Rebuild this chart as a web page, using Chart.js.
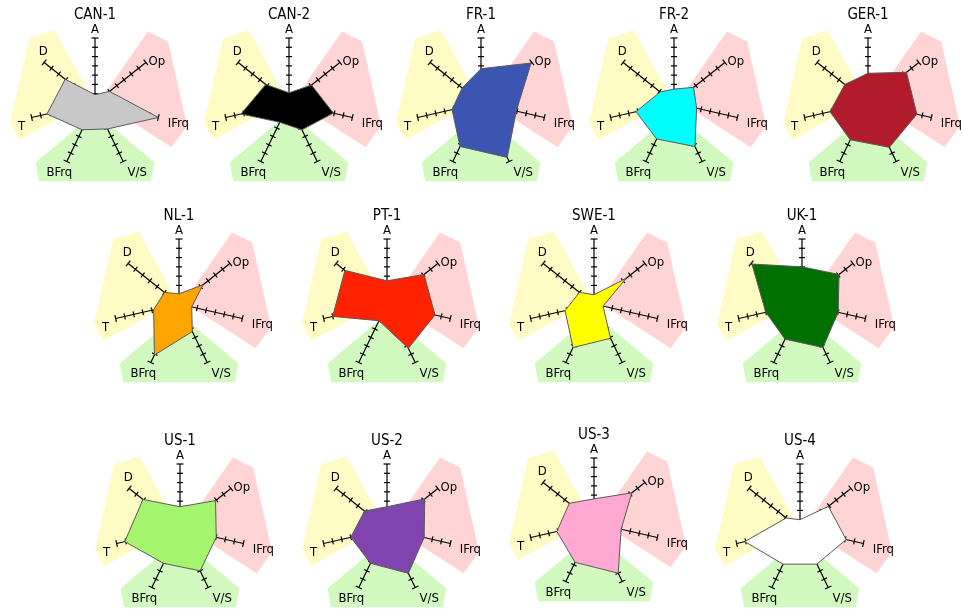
<!DOCTYPE html>
<html>
<head>
<meta charset="utf-8">
<script src="https://cdn.jsdelivr.net/npm/chart.js@4.4.1/dist/chart.umd.min.js"></script>
<style>
  html, body { margin: 0; padding: 0; background: #ffffff; }
  #board { position: relative; width: 963px; height: 610px; overflow: hidden; }
  .cell { position: absolute; width: 200px; height: 200px; }
</style>
</head>
<body>
<div id="board"></div>
<script>
// Spokes of every star, clockwise from the top
const axisLabels = ['A', 'Op', 'IFrq', 'V/S', 'BFrq', 'T', 'D'];
const axisMax = 7;

// Scores per site, in spoke order
const CAN1 = [0.9, 2.0, 7.0, 3.1, 3.2, 5.3, 4.1];
const CAN2 = [1.1, 3.1, 4.9, 3.2, 2.3, 5.3, 3.2];
const FR1  = [3.7, 6.9, 3.9, 6.5, 5.2, 3.2, 2.6];
const FR2  = [1.5, 2.7, 2.5, 5.2, 4.3, 4.2, 1.9];
const GER1 = [3.2, 5.3, 5.4, 5.3, 4.4, 4.2, 3.2];
const NL1  = [1.1, 3.3, 1.4, 3.3, 6.1, 2.8, 2.0];
const PT1  = [2.5, 5.1, 5.3, 5.3, 2.0, 6.0, 5.8];
const SWE1 = [1.0, 4.4, 1.0, 4.1, 5.2, 3.2, 2.0];
const UK1  = [4.0, 5.1, 4.0, 5.2, 4.2, 4.0, 6.9];
const US1  = [2.4, 4.9, 4.0, 5.0, 4.1, 6.1, 5.1];
const US2  = [2.4, 5.2, 4.1, 5.3, 4.1, 4.0, 3.1];
const US3  = [2.6, 5.2, 3.0, 6.0, 4.7, 4.1, 3.4];
const US4  = [1.0, 3.9, 5.1, 4.2, 4.2, 6.1, 1.9];

const sites = [
  { name: 'CAN-1', values: CAN1, fill: '#c8c8c8' },
  { name: 'CAN-2', values: CAN2, fill: '#000000' },
  { name: 'FR-1',  values: FR1,  fill: '#3c55b0' },
  { name: 'FR-2',  values: FR2,  fill: '#00ffff' },
  { name: 'GER-1', values: GER1, fill: '#b21b2b' },
  { name: 'NL-1',  values: NL1,  fill: '#ffa500' },
  { name: 'PT-1',  values: PT1,  fill: '#ff2200' },
  { name: 'SWE-1', values: SWE1, fill: '#ffff00' },
  { name: 'UK-1',  values: UK1,  fill: '#007000' },
  { name: 'US-1',  values: US1,  fill: '#a6f56e' },
  { name: 'US-2',  values: US2,  fill: '#8044ae' },
  { name: 'US-3',  values: US3,  fill: '#ffa8d2' },
  { name: 'US-4',  values: US4,  fill: '#ffffff' }
];

// Page position of each star's centre
const centres = [
  [95, 104], [289, 104], [481, 104], [674, 104], [868, 104],
  [179, 305], [387, 305], [594, 305], [802, 305],
  [180, 530], [387, 530], [594, 524], [800, 530]
];

// Shaded groups behind the spokes: [angle in degrees (counter-clockwise from east), radius as a share of the spoke length]
const groupShapes = [
  { color: '#fffbc4', pts: [[124, 0.06], [119, 1.28], [135.5, 1.42], [193, 1.34], [206, 1.30]] },
  { color: '#ffd4d4', pts: [[26, 0.08], [53.5, 1.37], [40, 1.47], [-14, 1.46], [-30, 1.36]] },
  { color: '#d2f9c0', pts: [[-90, 0.15], [-45, 1.29], [-54.5, 1.48], [-125.5, 1.48], [-135, 1.29]] }
];

// Where each spoke name sits relative to the spoke tip
const labelOffsets = [[0, -8], [11, -1], [20, 6], [14, 11], [-7.5, 11], [-10, 9], [-1, -11]];

const FONT = "'DejaVu Sans Condensed', 'DejaVu Sans', sans-serif";

const starDecor = {
  id: 'starDecor',
  beforeDraw(chart) {
    const s = chart.scales.r;
    const ctx = chart.ctx;
    const R = s.drawingArea;
    ctx.save();
    groupShapes.forEach(g => {
      ctx.beginPath();
      g.pts.forEach(([deg, f], k) => {
        const a = deg * Math.PI / 180;
        const x = s.xCenter + Math.cos(a) * f * R;
        const y = s.yCenter - Math.sin(a) * f * R;
        if (k === 0) ctx.moveTo(x, y); else ctx.lineTo(x, y);
      });
      ctx.closePath();
      ctx.fillStyle = g.color;
      ctx.fill();
    });
    ctx.restore();
  },
  beforeDatasetsDraw(chart) {
    const s = chart.scales.r;
    const ctx = chart.ctx;
    ctx.save();
    ctx.strokeStyle = '#000000';
    ctx.lineWidth = 1.2;
    for (let i = 0; i < axisLabels.length; i++) {
      for (let v = 1; v <= axisMax; v++) {
        const p = s.getPointPositionForValue(i, v);
        const nx = -Math.sin(p.angle), ny = Math.cos(p.angle);
        const h = v === axisMax ? 3.5 : 3;
        ctx.beginPath();
        ctx.moveTo(p.x - nx * h, p.y - ny * h);
        ctx.lineTo(p.x + nx * h, p.y + ny * h);
        ctx.stroke();
      }
    }
    ctx.restore();
  },
  afterDraw(chart) {
    const s = chart.scales.r;
    const ctx = chart.ctx;
    ctx.save();
    ctx.font = '13px ' + FONT;
    ctx.fillStyle = '#000000';
    ctx.textAlign = 'center';
    ctx.textBaseline = 'middle';
    axisLabels.forEach((lab, i) => {
      const p = s.getPointPosition(i, s.drawingArea);
      ctx.fillText(lab, p.x + labelOffsets[i][0], p.y + labelOffsets[i][1]);
    });
    ctx.restore();
  }
};

const board = document.getElementById('board');
sites.forEach((site, k) => {
  const [cx, cy] = centres[k];
  const canvas = document.createElement('canvas');
  canvas.className = 'cell';
  canvas.width = 200;
  canvas.height = 200;
  canvas.style.left = (cx - 100) + 'px';
  canvas.style.top = (cy - 100) + 'px';
  board.appendChild(canvas);

  new Chart(canvas, {
    type: 'radar',
    data: {
      labels: axisLabels,
      datasets: [{
        data: site.values,
        backgroundColor: site.fill,
        borderColor: '#5a5a5a',
        borderWidth: 1,
        pointRadius: 0,
        fill: true,
        tension: 0
      }]
    },
    options: {
      responsive: false,
      animation: false,
      devicePixelRatio: 1,
      events: [],
      layout: { padding: { top: 3, bottom: 20, left: 35, right: 35 } },
      plugins: {
        legend: { display: false },
        tooltip: { enabled: false },
        title: {
          display: true,
          text: site.name,
          color: '#000000',
          font: { family: FONT, size: 15, weight: 'normal', lineHeight: 1.12 },
          padding: 0
        }
      },
      scales: {
        r: {
          min: 0,
          max: axisMax,
          ticks: { display: false, stepSize: 1 },
          grid: { display: false },
          angleLines: { display: true, color: '#000000', lineWidth: 1.2 },
          pointLabels: { display: false }
        }
      }
    },
    plugins: [starDecor]
  });
});
</script>
</body>
</html>
